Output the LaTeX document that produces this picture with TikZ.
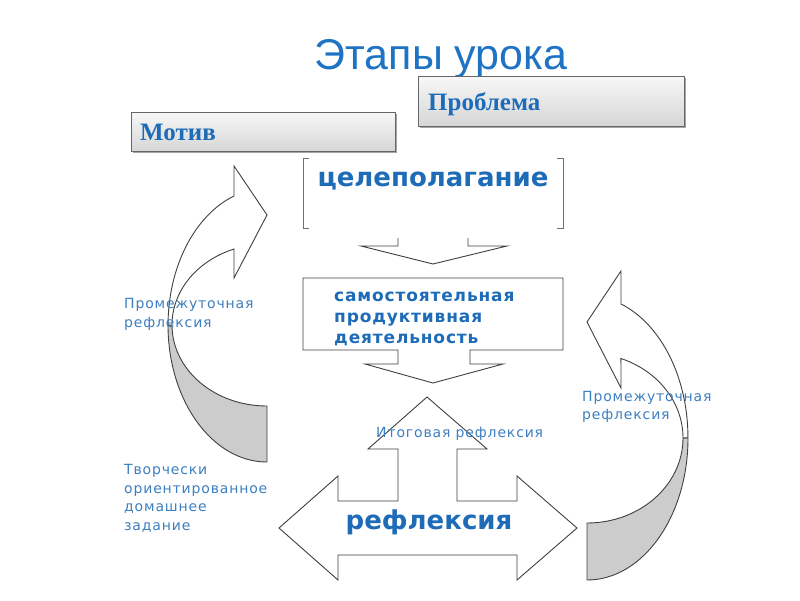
\documentclass[tikz,border=0pt]{standalone}
\usepackage{fontspec}
\setmainfont{DejaVu Sans}
\newfontfamily\titlefont{Liberation Sans}
\newfontfamily\serifbfont{Liberation Serif}
\newfontfamily\lblfont{DejaVu Sans}[LetterSpace=6]
\newfontfamily\midfont{DejaVu Sans}[LetterSpace=5]
\usetikzlibrary{shadows}
\definecolor{titleblue}{HTML}{1F73C5}
\definecolor{boldblue}{HTML}{1E6BB8}
\definecolor{lblblue}{HTML}{3D7FC1}
\definecolor{linec}{HTML}{404040}
\definecolor{brkc}{HTML}{707070}
\begin{document}
\begin{tikzpicture}[x=1pt,y=-1pt,
  outline/.style={draw=linec, line width=0.9pt, fill=white},
  backpart/.style={draw=linec, line width=0.9pt, fill=gray!40},
  graybox/.style={draw=linec!80, line width=0.9pt, top color=gray!6, bottom color=gray!32,
    drop shadow={shadow xshift=2pt, shadow yshift=-2pt, opacity=0.35, fill=black}},
  brk/.style={draw=brkc, line width=0.9pt},
  lbl/.style={inner sep=0pt, anchor=base west, text=lblblue, font=\lblfont\fontsize{14}{18}\selectfont},
  serifhead/.style={inner sep=0pt, anchor=base west, text=boldblue, font=\serifbfont\bfseries\fontsize{25}{30}\selectfont},
  midtext/.style={inner sep=0pt, anchor=base west, text=boldblue, font=\midfont\bfseries\fontsize{17}{21}\selectfont},
  bigtext/.style={inner sep=0pt, anchor=base, text=boldblue, font=\bfseries\fontsize{26}{30}\selectfont}
]
\useasboundingbox (0,0) rectangle (800,600);
\fill[white] (0,0) rectangle (800,600);

% title
\node[inner sep=0pt, anchor=base, text=titleblue, font=\titlefont\fontsize{43}{50}\selectfont] (title) at (441,69) {Этапы урока};

% header boxes
\path[graybox] (418,76) rectangle (684,126);
\node[serifhead] (problem) at (428,110) {Проблема};
\path[graybox] (131,112) rectangle (395,151);
\node[serifhead] (motive) at (140,140) {Мотив};

% bracket box
\draw[brk] (309,158) -- (303,158) -- (303,228) -- (309,228);
\draw[brk] (557,158) -- (563,158) -- (563,228) -- (557,228);
\node[bigtext] (goal) at (433,186) {целеполагание};

% small down arrow
\draw[linec, line width=0.9pt] (398,238) -- (398,246) -- (361,246) -- (433,264) -- (507,246) -- (468,246) -- (468,238);

% callout box with down arrow
\path[outline] (303,278) -- (563,278) -- (563,350) -- (470,350) -- (470,364) -- (503,364) -- (433,383) -- (365,364) -- (398,364) -- (398,350) -- (303,350) -- cycle;
\node[midtext] (act1) at (334,301) {самостоятельная};
\node[midtext] (act2) at (334,322) {продуктивная};
\node[midtext] (act3) at (334,343) {деятельность};

% left curved arrow
\path[backpart] (168,325) arc[start angle=180, end angle=90, x radius=99, y radius=137] -- (267,406) arc[start angle=90, end angle=180, x radius=95, y radius=81] -- cycle;
\path[outline] (234,196) arc[start angle=250.5, end angle=180, x radius=99, y radius=137] -- (172,325) arc[start angle=180, end angle=249.7, x radius=95, y radius=81] -- (234,278) -- (267,215) -- (234,166) -- cycle;

% right curved arrow
\path[backpart] (688,438) arc[start angle=0, end angle=90, x radius=101, y radius=142] -- (587,523) arc[start angle=90, end angle=0, x radius=96, y radius=85] -- cycle;
\path[outline] (621,304) arc[start angle=-70.3, end angle=0, x radius=101, y radius=142] -- (683,438) arc[start angle=0, end angle=-69.3, x radius=96, y radius=85] -- (621,388) -- (587,322) -- (621,271) -- cycle;

% up arrow + left-right arrow
\path[outline] (279,528) -- (338,476) -- (338,501) -- (398,501) -- (398,449) -- (368,449) -- (427,397) -- (487,449) -- (457,449) -- (457,501) -- (517,501) -- (517,476) -- (577,528) -- (517,580) -- (517,555) -- (338,555) -- (338,580) -- cycle;
\node[bigtext] (refl) at (429,529) {рефлексия};

% labels
\node[lbl] (final) at (376,437) {Итоговая рефлексия};
\node[lbl] (lmid1) at (124,308) {Промежуточная};
\node[lbl] (lmid2) at (124,327) {рефлексия};
\node[lbl] (home1) at (124,474) {Творчески};
\node[lbl] (home2) at (124,493) {ориентированное};
\node[lbl] (home3) at (124,511) {домашнее};
\node[lbl] (home4) at (124,530) {задание};
\node[lbl] (rmid1) at (582,401) {Промежуточная};
\node[lbl] (rmid2) at (582,419) {рефлексия};
\end{tikzpicture}
\end{document}
